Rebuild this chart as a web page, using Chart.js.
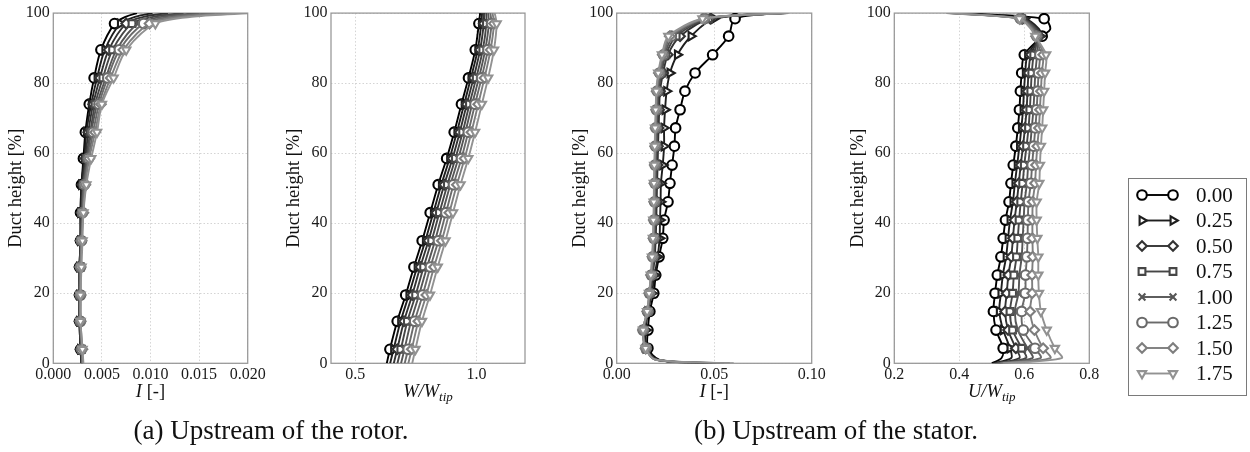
<!DOCTYPE html>
<html><head><meta charset="utf-8">
<script src="https://cdn.jsdelivr.net/npm/chart.js@4.4.1/dist/chart.umd.min.js"></script>
<style>
html,body{margin:0;padding:0;background:#fff;width:1250px;height:452px;overflow:hidden;position:relative;font-family:"Liberation Serif",serif}
canvas{position:absolute;top:0}
.cap{position:absolute;top:413px;font-size:27px;line-height:34px;color:#111;white-space:nowrap;transform:translateX(-50%);}
</style></head><body>
<canvas id="c1" width="275" height="452" style="left:0px"></canvas>
<canvas id="c2" width="290" height="452" style="left:260px"></canvas>
<canvas id="c3" width="300" height="452" style="left:540px"></canvas>
<canvas id="c4" width="410" height="452" style="left:840px"></canvas>
<div class="cap" style="left:271px">(a) Upstream of the rotor.</div>
<div class="cap" style="left:836px">(b) Upstream of the stator.</div>
<script>
// ---------------- data ----------------
const SERIES_LABELS = ['0.00','0.25','0.50','0.75','1.00','1.25','1.50','1.75'];
const Y_TICKS = [0, 20, 40, 60, 80, 100];

// (a) upstream of rotor : turbulence intensity I
const ROTOR_I_TICKS = [0, 0.005, 0.010, 0.015, 0.020];
const ROTOR_I_HEIGHT = [0, 4, 12, 19.5, 27.5, 35, 43, 51, 58.5, 66, 74, 81.5, 89.5, 97, 99, 100];
const ROTOR_I_MARKER_H = [4, 12, 19.5, 27.5, 35, 43, 51, 58.5, 66, 74, 81.5, 89.5, 97];
const ROTOR_I_000 = [0.0029, 0.0028, 0.0027, 0.0027, 0.0027, 0.0028, 0.0028, 0.0029, 0.0031, 0.0033, 0.0037, 0.0042, 0.0049, 0.0063, 0.0075, 0.0086];
const ROTOR_I_025 = [0.0029, 0.0028, 0.0027, 0.0027, 0.0027, 0.0028, 0.0028, 0.0029, 0.0032, 0.0034, 0.0039, 0.0045, 0.0053, 0.0069, 0.0085, 0.0102];
const ROTOR_I_050 = [0.0029, 0.0028, 0.0027, 0.0027, 0.0027, 0.0028, 0.0029, 0.0030, 0.0033, 0.0036, 0.0041, 0.0048, 0.0057, 0.0075, 0.0094, 0.0118];
const ROTOR_I_075 = [0.0030, 0.0029, 0.0027, 0.0027, 0.0028, 0.0028, 0.0029, 0.0031, 0.0034, 0.0038, 0.0043, 0.0051, 0.0061, 0.0081, 0.0104, 0.0134];
const ROTOR_I_100 = [0.0030, 0.0029, 0.0028, 0.0027, 0.0028, 0.0029, 0.0030, 0.0031, 0.0035, 0.0039, 0.0045, 0.0054, 0.0065, 0.0087, 0.0113, 0.0150];
const ROTOR_I_125 = [0.0030, 0.0029, 0.0028, 0.0028, 0.0028, 0.0029, 0.0030, 0.0032, 0.0036, 0.0041, 0.0047, 0.0056, 0.0068, 0.0093, 0.0123, 0.0166];
const ROTOR_I_150 = [0.0030, 0.0030, 0.0028, 0.0028, 0.0028, 0.0029, 0.0031, 0.0033, 0.0037, 0.0043, 0.0049, 0.0059, 0.0072, 0.0099, 0.0133, 0.0184];
const ROTOR_I_175 = [0.0031, 0.0030, 0.0028, 0.0028, 0.0029, 0.0030, 0.0031, 0.0034, 0.0039, 0.0045, 0.0050, 0.0062, 0.0075, 0.0105, 0.0145, 0.0205];

// (a) upstream of rotor : relative velocity W/Wtip
const ROTOR_W_TICKS = [0.5, 1.0];
const ROTOR_W_HEIGHT = [0, 4, 12, 19.5, 27.5, 35, 43, 51, 58.5, 66, 74, 81.5, 89.5, 97, 100];
const ROTOR_W_MARKER_H = [4, 12, 19.5, 27.5, 35, 43, 51, 58.5, 66, 74, 81.5, 89.5, 97];
const ROTOR_W_000 = [0.630, 0.643, 0.673, 0.708, 0.742, 0.776, 0.809, 0.842, 0.877, 0.908, 0.938, 0.967, 0.995, 1.010, 1.015];
const ROTOR_W_025 = [0.644, 0.658, 0.687, 0.721, 0.755, 0.789, 0.822, 0.855, 0.889, 0.919, 0.949, 0.977, 1.005, 1.020, 1.023];
const ROTOR_W_050 = [0.659, 0.673, 0.701, 0.735, 0.768, 0.802, 0.834, 0.867, 0.901, 0.931, 0.960, 0.988, 1.015, 1.030, 1.031];
const ROTOR_W_075 = [0.674, 0.688, 0.715, 0.749, 0.782, 0.815, 0.847, 0.880, 0.913, 0.943, 0.971, 0.999, 1.026, 1.041, 1.040];
const ROTOR_W_100 = [0.689, 0.703, 0.730, 0.763, 0.796, 0.829, 0.860, 0.892, 0.925, 0.954, 0.982, 1.010, 1.036, 1.051, 1.048];
const ROTOR_W_125 = [0.704, 0.718, 0.745, 0.778, 0.810, 0.843, 0.874, 0.905, 0.938, 0.966, 0.994, 1.021, 1.047, 1.062, 1.057];
const ROTOR_W_150 = [0.719, 0.733, 0.760, 0.793, 0.825, 0.857, 0.888, 0.919, 0.951, 0.979, 1.007, 1.033, 1.058, 1.072, 1.066];
const ROTOR_W_175 = [0.735, 0.748, 0.775, 0.808, 0.840, 0.872, 0.903, 0.934, 0.966, 0.994, 1.022, 1.048, 1.072, 1.083, 1.075];

// (b) upstream of stator : turbulence intensity I
const STATOR_I_TICKS = [0, 0.05, 0.10];
const STATOR_I_HEIGHT = [0, 1.0, 4.3, 9.5, 14.8, 20, 25.2, 30.4, 35.7, 40.9, 46.1, 51.4, 56.6, 62, 67.2, 72.4, 77.7, 82.9, 88.1, 93.4, 98.4, 100];
const STATOR_I_MARKER_H = [4.3, 9.5, 14.8, 20, 25.2, 30.4, 35.7, 40.9, 46.1, 51.4, 56.6, 62, 67.2, 72.4, 77.7, 82.9, 88.1, 93.4, 98.4];
const STATOR_I_000 = [0.045, 0.022, 0.0160, 0.0160, 0.0170, 0.0190, 0.0200, 0.0217, 0.0236, 0.0243, 0.0263, 0.0273, 0.0284, 0.0296, 0.0302, 0.0325, 0.0350, 0.0402, 0.0492, 0.0574, 0.0607, 0.085];
const STATOR_I_025 = [0.047, 0.021, 0.0150, 0.0150, 0.0160, 0.0180, 0.0195, 0.0210, 0.0220, 0.0222, 0.0225, 0.0227, 0.0236, 0.0243, 0.0243, 0.0248, 0.0256, 0.0273, 0.0311, 0.0381, 0.0500, 0.085];
const STATOR_I_050 = [0.049, 0.021, 0.0150, 0.0140, 0.0160, 0.0175, 0.0185, 0.0195, 0.0200, 0.0203, 0.0205, 0.0207, 0.0210, 0.0212, 0.0215, 0.0218, 0.0222, 0.0238, 0.0262, 0.0325, 0.0480, 0.086];
const STATOR_I_075 = [0.051, 0.020, 0.0150, 0.0140, 0.0160, 0.0172, 0.0182, 0.0190, 0.0195, 0.0197, 0.0199, 0.0201, 0.0203, 0.0205, 0.0208, 0.0211, 0.0215, 0.0230, 0.0252, 0.0305, 0.0470, 0.086];
const STATOR_I_100 = [0.053, 0.020, 0.0150, 0.0140, 0.0160, 0.0170, 0.0180, 0.0187, 0.0192, 0.0194, 0.0196, 0.0198, 0.0200, 0.0202, 0.0204, 0.0207, 0.0211, 0.0225, 0.0246, 0.0290, 0.0460, 0.087];
const STATOR_I_125 = [0.055, 0.020, 0.0150, 0.0135, 0.0158, 0.0168, 0.0178, 0.0185, 0.0190, 0.0192, 0.0194, 0.0196, 0.0197, 0.0199, 0.0201, 0.0204, 0.0208, 0.0220, 0.0240, 0.0280, 0.0450, 0.087];
const STATOR_I_150 = [0.058, 0.020, 0.0148, 0.0135, 0.0157, 0.0167, 0.0176, 0.0183, 0.0188, 0.0190, 0.0192, 0.0193, 0.0195, 0.0197, 0.0199, 0.0202, 0.0205, 0.0216, 0.0236, 0.0272, 0.0450, 0.088];
const STATOR_I_175 = [0.060, 0.020, 0.0148, 0.0135, 0.0156, 0.0166, 0.0175, 0.0181, 0.0186, 0.0188, 0.0190, 0.0191, 0.0193, 0.0195, 0.0197, 0.0200, 0.0203, 0.0213, 0.0232, 0.0265, 0.0440, 0.088];

// (b) upstream of stator : absolute velocity U/Wtip
const STATOR_U_TICKS = [0.2, 0.4, 0.6, 0.8];
const STATOR_U_HEIGHT = [0, 1.5, 4.3, 9.5, 14.8, 20, 25.2, 30.4, 35.7, 40.9, 46.1, 51.4, 56.6, 62, 67.2, 72.4, 77.7, 82.9, 88.1, 93.4, 95.5, 98.4, 100];
const STATOR_U_MARKER_H = [4.3, 9.5, 14.8, 20, 25.2, 30.4, 35.7, 40.9, 46.1, 51.4, 56.6, 62, 67.2, 72.4, 77.7, 82.9, 88.1, 93.4, 98.4];
const STATOR_U_000 = [0.500, 0.530, 0.535, 0.513, 0.505, 0.510, 0.517, 0.528, 0.535, 0.542, 0.553, 0.559, 0.566, 0.574, 0.580, 0.585, 0.588, 0.592, 0.600, 0.655, 0.680, 0.661, 0.400];
const STATOR_U_025 = [0.505, 0.560, 0.556, 0.535, 0.523, 0.528, 0.534, 0.544, 0.550, 0.556, 0.565, 0.571, 0.578, 0.585, 0.591, 0.596, 0.599, 0.603, 0.610, 0.650, 0.645, 0.600, 0.390];
const STATOR_U_050 = [0.510, 0.585, 0.574, 0.550, 0.541, 0.546, 0.551, 0.560, 0.565, 0.570, 0.577, 0.583, 0.589, 0.596, 0.602, 0.607, 0.610, 0.613, 0.620, 0.646, 0.640, 0.595, 0.385];
const STATOR_U_075 = [0.515, 0.605, 0.592, 0.564, 0.556, 0.564, 0.568, 0.576, 0.580, 0.584, 0.589, 0.595, 0.600, 0.607, 0.613, 0.617, 0.620, 0.623, 0.629, 0.643, 0.636, 0.592, 0.380];
const STATOR_U_100 = [0.520, 0.625, 0.610, 0.580, 0.571, 0.582, 0.585, 0.592, 0.595, 0.598, 0.601, 0.608, 0.612, 0.618, 0.623, 0.628, 0.631, 0.634, 0.639, 0.640, 0.632, 0.590, 0.375];
const STATOR_U_125 = [0.525, 0.650, 0.633, 0.597, 0.592, 0.603, 0.604, 0.608, 0.610, 0.611, 0.613, 0.620, 0.624, 0.629, 0.634, 0.638, 0.641, 0.644, 0.648, 0.638, 0.628, 0.588, 0.370];
const STATOR_U_150 = [0.530, 0.680, 0.658, 0.631, 0.618, 0.624, 0.624, 0.626, 0.625, 0.625, 0.626, 0.633, 0.636, 0.640, 0.645, 0.648, 0.651, 0.654, 0.658, 0.636, 0.624, 0.586, 0.365];
const STATOR_U_175 = [0.535, 0.715, 0.694, 0.669, 0.651, 0.645, 0.643, 0.643, 0.640, 0.638, 0.638, 0.646, 0.648, 0.651, 0.655, 0.658, 0.661, 0.664, 0.667, 0.634, 0.620, 0.585, 0.360];

// ---------------- styles ----------------
const FONT = '"Liberation Serif", "Times New Roman", serif';
const COLORS = ['#000000', '#1e1e1e', '#333333', '#464646', '#565656', '#6a6a6a', '#7e7e7e', '#929292'];
const MARKERS = [
  {style: 'circle', rot: 0}, {style: 'triangle', rot: 90}, {style: 'rectRot', rot: 0}, {style: 'rect', rot: 0},
  {style: 'crossRot', rot: 0}, {style: 'circle', rot: 0}, {style: 'rectRot', rot: 0}, {style: 'triangle', rot: 180}
];
const MARKER_R = 4.8, MARKER_BW = 2.1, LINE_W = 1.9;

const framePlugin = {
  id: 'frame',
  beforeDatasetsDraw(chart) {
    const a = chart.chartArea, ctx = chart.ctx;
    ctx.save(); ctx.strokeStyle = '#9a9a9a'; ctx.lineWidth = 1.3;
    ctx.strokeRect(a.left, a.top, a.right - a.left, a.bottom - a.top);
    ctx.restore();
  }
};

function drawXTitle(chart, parts) {
  const ctx = chart.ctx, a = chart.chartArea;
  const main = 18.5, sub = 13;
  ctx.save();
  ctx.fillStyle = '#111'; ctx.textBaseline = 'alphabetic';
  let w = 0;
  parts.forEach(p => { ctx.font = (p.it ? 'italic ' : '') + (p.sub ? sub : main) + 'px ' + FONT; w += ctx.measureText(p.t).width; });
  let x = (a.left + a.right) / 2 - w / 2; const base = 397;
  parts.forEach(p => {
    ctx.font = (p.it ? 'italic ' : '') + (p.sub ? sub : main) + 'px ' + FONT;
    ctx.fillText(p.t, x, base + (p.sub ? 4 : 0));
    x += ctx.measureText(p.t).width;
  });
  ctx.restore();
}

function makePlot(id, o) {
  const markerSet = new Set(o.markerH);
  const datasets = o.series.map((vals, i) => ({
    label: SERIES_LABELS[i],
    data: vals.map((v, k) => ({x: v, y: o.height[k]})),
    showLine: true,
    borderColor: COLORS[i], backgroundColor: '#ffffff',
    borderWidth: LINE_W, tension: 0.3,
    pointStyle: MARKERS[i].style, pointRotation: MARKERS[i].rot,
    pointBorderColor: COLORS[i], pointBackgroundColor: '#ffffff', pointBorderWidth: MARKER_BW,
    pointRadius: ctx => markerSet.has(o.height[ctx.dataIndex]) ? MARKER_R : 0,
    pointHoverRadius: 0,
    order: 7 - i
  }));
  const tickFont = {family: FONT, size: 16};
  return new Chart(document.getElementById(id), {
    type: 'scatter',
    data: {datasets},
    options: {
      responsive: false, animation: false, events: [],
      layout: {padding: o.pad},
      plugins: {legend: {display: false}, tooltip: {enabled: false}},
      scales: {
        x: {
          type: 'linear', min: o.xMin, max: o.xMax,
          afterBuildTicks: s => { s.ticks = o.xTicks.map(v => ({value: v})); },
          afterFit: s => { s.height = 40; },
          ticks: {font: tickFont, color: '#1a1a1a', padding: 1.5, maxRotation: 0, autoSkip: false,
                  callback: v => Number(v).toFixed(o.dec)},
          grid: {color: '#c9c9c9', lineWidth: 0.8, drawTicks: false},
          border: {display: false, dash: [1.5, 2]}
        },
        y: {
          type: 'linear', min: 0, max: 100,
          afterBuildTicks: s => { s.ticks = Y_TICKS.map(v => ({value: v})); },
          afterFit: s => { s.width = o.yWidth; },
          ticks: {font: tickFont, color: '#1a1a1a', padding: 3.5},
          grid: {color: '#c9c9c9', lineWidth: 0.8, drawTicks: false},
          border: {display: false, dash: [1.5, 2]},
          title: {display: true, text: 'Duct height [%]', font: {family: FONT, size: 18.5}, color: '#111', padding: 0}
        }
      }
    },
    plugins: [framePlugin, {id: 'xtitle', afterDraw: c => drawXTitle(c, o.xTitle)}].concat(o.extra || [])
  });
}

// legend drawn on the last panel's canvas, using Chart.js' point drawing helper
const legendPlugin = {
  id: 'sideLegend',
  afterDraw(chart) {
    const ctx = chart.ctx, off = 840;
    const bx = 1128 - off, by = 178, bw = 118, bh = 217;
    ctx.save();
    ctx.strokeStyle = '#7a7a7a'; ctx.lineWidth = 1;
    ctx.strokeRect(bx + 0.5, by + 0.5, bw, bh);
    const helpers = Chart.helpers;
    SERIES_LABELS.forEach((lab, i) => {
      const y = 195 + i * 25.5;
      const x1 = 1142 - off, x2 = 1173 - off;
      ctx.strokeStyle = COLORS[i]; ctx.lineWidth = LINE_W;
      ctx.beginPath(); ctx.moveTo(x1, y); ctx.lineTo(x2, y); ctx.stroke();
      [x1, x2].forEach(x => {
        ctx.fillStyle = '#ffffff'; ctx.strokeStyle = COLORS[i]; ctx.lineWidth = MARKER_BW;
        helpers.drawPoint(ctx, {pointStyle: MARKERS[i].style, rotation: MARKERS[i].rot, radius: MARKER_R, borderWidth: MARKER_BW}, x, y);
      });
      ctx.fillStyle = '#111'; ctx.font = '21px ' + FONT; ctx.textBaseline = 'middle'; ctx.textAlign = 'left';
      ctx.fillText(lab, 1196 - off, y + 1);
    });
    ctx.restore();
  }
};

makePlot('c1', {
  height: ROTOR_I_HEIGHT, markerH: ROTOR_I_MARKER_H,
  series: [ROTOR_I_000, ROTOR_I_025, ROTOR_I_050, ROTOR_I_075, ROTOR_I_100, ROTOR_I_125, ROTOR_I_150, ROTOR_I_175],
  xMin: 0, xMax: 0.02, xTicks: ROTOR_I_TICKS, dec: 3,
  xTitle: [{t: 'I', it: true}, {t: ' [-]'}],
  pad: {left: 5, right: 27.3, top: 12.7, bottom: 48.7}, yWidth: 48.3
});
makePlot('c2', {
  height: ROTOR_W_HEIGHT, markerH: ROTOR_W_MARKER_H,
  series: [ROTOR_W_000, ROTOR_W_025, ROTOR_W_050, ROTOR_W_075, ROTOR_W_100, ROTOR_W_125, ROTOR_W_150, ROTOR_W_175],
  xMin: 0.4, xMax: 1.2, xTicks: ROTOR_W_TICKS, dec: 1,
  xTitle: [{t: 'W/W', it: true}, {t: 'tip', it: true, sub: true}],
  pad: {left: 23, right: 25, top: 12.7, bottom: 48.7}, yWidth: 48
});
makePlot('c3', {
  height: STATOR_I_HEIGHT, markerH: STATOR_I_MARKER_H,
  series: [STATOR_I_000, STATOR_I_025, STATOR_I_050, STATOR_I_075, STATOR_I_100, STATOR_I_125, STATOR_I_150, STATOR_I_175],
  xMin: 0, xMax: 0.1, xTicks: STATOR_I_TICKS, dec: 2,
  xTitle: [{t: 'I', it: true}, {t: ' [-]'}],
  pad: {left: 29, right: 28.3, top: 12.7, bottom: 48.7}, yWidth: 47.7
});
makePlot('c4', {
  height: STATOR_U_HEIGHT, markerH: STATOR_U_MARKER_H,
  series: [STATOR_U_000, STATOR_U_025, STATOR_U_050, STATOR_U_075, STATOR_U_100, STATOR_U_125, STATOR_U_150, STATOR_U_175],
  xMin: 0.2, xMax: 0.8, xTicks: STATOR_U_TICKS, dec: 1,
  xTitle: [{t: 'U/W', it: true}, {t: 'tip', it: true, sub: true}],
  pad: {left: 7, right: 160.7, top: 12.7, bottom: 48.7}, yWidth: 47.3,
  extra: [legendPlugin]
});
</script>
</body></html>
